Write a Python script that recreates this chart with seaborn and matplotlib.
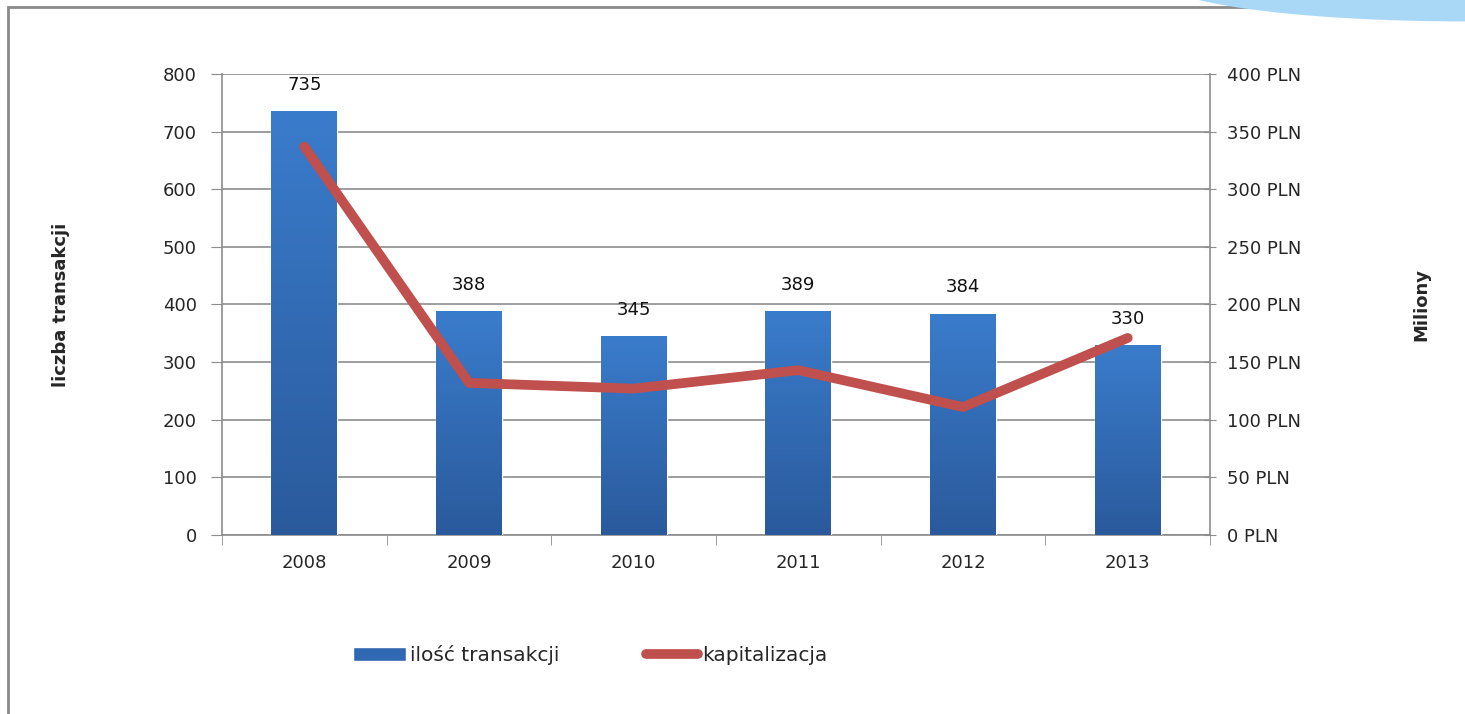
import numpy as np
import pandas as pd
import matplotlib
matplotlib.use("Agg")
import matplotlib.pyplot as plt
import seaborn as sns
from matplotlib.patches import Ellipse, Rectangle
from matplotlib.lines import Line2D
from matplotlib.colors import LinearSegmentedColormap

# data
years = ["2008", "2009", "2010", "2011", "2012", "2013"]
transactions = [735, 388, 345, 389, 384, 330]
capitalization = [337, 132, 127, 143, 111, 171]  # mln PLN

df = pd.DataFrame({"rok": years, "ilosc": transactions, "kap": capitalization})

sns.set_style("white")
plt.rcParams["font.family"] = ["DejaVu Sans"]

fig = plt.figure(figsize=(14.65, 7.14), dpi=100)
ax = fig.add_axes([0.1515, 0.2507, 0.6745, 0.6457])

# frame + decoration of the slide
fig.patches.append(Rectangle((0.0055, -0.05), 1.2, 1.04, transform=fig.transFigure,
                             fill=False, edgecolor="#8a8a8a", lw=2, zorder=0))
fig.patches.append(Ellipse((1.0, 1.03), 0.42, 0.12, transform=fig.transFigure,
                           facecolor="#a9d8f7", edgecolor="none", zorder=1))

sns.barplot(data=df, x="rok", y="ilosc", color="#3a78c6", width=0.4,
            saturation=1, ax=ax, zorder=3)

# vertical gradient on bars
cmap = LinearSegmentedColormap.from_list("bar", ["#2a5a9c", "#3a7ccc"])
grad = np.linspace(0, 1, 256).reshape(-1, 1)
for p in ax.patches:
    x0, y0 = p.get_x(), p.get_y()
    w, h = p.get_width(), p.get_height()
    im = ax.imshow(grad, cmap=cmap, aspect="auto", origin="lower",
                   extent=[x0, x0 + w, y0, y0 + h], zorder=3)
    im.set_clip_path(p)
    ax.text(x0 + w / 2, h + 30, f"{int(h)}", ha="center", va="bottom",
            fontsize=13, color="#111111")
ax.set_xlim(-0.5, 5.5)
ax.set_ylim(0, 800)
ax.set_yticks(range(0, 801, 100))
ax.grid(axis="y", color="#8c8c8c", lw=1.2, zorder=0)
ax.set_axisbelow(True)
ax.set_xlabel("")
ax.set_ylabel("liczba transakcji", fontsize=13, fontweight="bold", labelpad=67)
ax.tick_params(axis="y", which="major", length=8, color="#8c8c8c",
               labelsize=13, pad=10, left=True)
ax.tick_params(axis="x", which="major", length=0, labelsize=13, pad=14)
ax.set_xticks(np.arange(-0.5, 5.6, 1), minor=True)
ax.tick_params(axis="x", which="minor", length=7, color="#8c8c8c", bottom=True)
for s in ["left", "bottom"]:
    ax.spines[s].set_color("#8c8c8c")
    ax.spines[s].set_linewidth(1.2)
ax.spines["top"].set_visible(False)
ax.spines["right"].set_visible(False)

ax2 = ax.twinx()
sns.lineplot(x=np.arange(len(years)), y=capitalization, color="#c0504d", lw=7,
             ax=ax2, zorder=4)
ax2.set_ylim(0, 400)
ax2.set_yticks(range(0, 401, 50))
ax2.set_yticklabels([f"{v} PLN" for v in range(0, 401, 50)])
ax2.tick_params(axis="y", length=8, color="#8c8c8c", direction="inout",
                labelsize=13, pad=8, right=True)
ax2.set_ylabel("Miliony", fontsize=13, fontweight="bold", labelpad=80)
ax2.grid(False)
for s in ["top", "left", "bottom"]:
    ax2.spines[s].set_visible(False)
ax2.spines["right"].set_color("#8c8c8c")
ax2.spines["right"].set_linewidth(1.2)

handles = [Rectangle((0, 0), 1, 1, facecolor="#3068b4"),
           Line2D([0], [0], color="#c0504d", lw=7, solid_capstyle="round")]
fig.legend(handles, ["ilość transakcji", "kapitalizacja"], loc="center",
           bbox_to_anchor=(0.403, 0.082), ncol=2, frameon=False, fontsize=14.5,
           handlelength=2.6, handletextpad=0.2, columnspacing=4.3)

fig.savefig("out.png", dpi=100)
